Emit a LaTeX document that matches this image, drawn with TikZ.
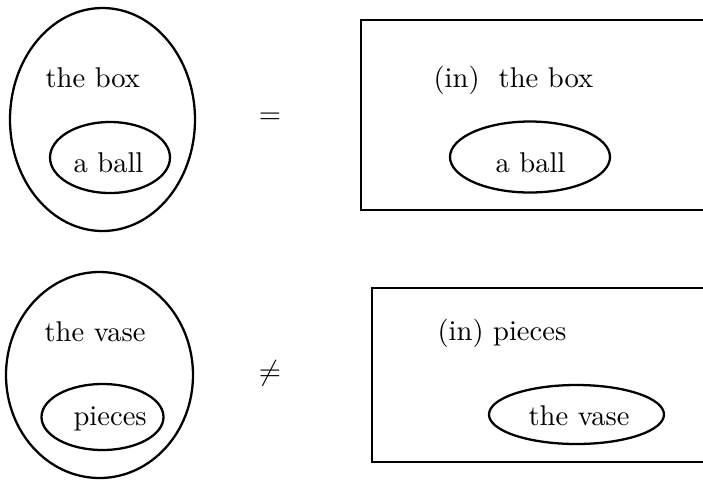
\documentclass[tikz,border=0pt]{standalone}
\usetikzlibrary{positioning}

\tikzset{
  lbl/.style={anchor=base west, inner sep=0pt},
  rel/.style={inner sep=0pt},
  outline/.style={line width=0.8pt}
}

\begin{document}
\begin{tikzpicture}[x=0.35pt, y=-0.35pt]
        \useasboundingbox (0,0) rectangle (703,480);

        \coordinate (O1) at (102.5,119.5);
        \coordinate (I1) at (110,157.5);
        \coordinate (I2) at (530,157);
        \coordinate (O3) at (99.5,375);
        \coordinate (I3) at (102.5,417);
        \coordinate (I4) at (576.5,414.5);

        \draw[outline] (O1) ellipse (92.5 and 111.5);
        \draw[outline] (I1) ellipse (60 and 35.5);
        \draw[outline] (360.7,20) rectangle (712,210);
        \draw[outline] (I2) ellipse (80 and 35.5);

        \draw[outline] (O3) ellipse (93.5 and 103);
        \draw[outline] (I3) ellipse (61 and 33);
        \draw[outline] (372.3,288.3) rectangle (712,461.7);
        \draw[outline] (I4) ellipse (87.5 and 29.5);

    % Labels
    \node[lbl] (thebox) at (45,87) {the box};
    \node[lbl] (aball) at (73,172) {a ball};
    \node[rel] (eq) at (270,118) {$=$};
    \node[lbl] (inbox) at (433,87) {(in)~~the box};
    \node[lbl] (aballin) at (495,172) {a ball};

    \node[lbl] (thevase) at (44,341) {the vase};
    \node[lbl] (pieces) at (73,425) {pieces};
    \node[rel] (neq) at (270,373) {$\neq$};
    \node[lbl] (inpieces) at (437,340) {(in) pieces};
    \node[lbl] (thevasein) at (528,425) {the vase};
    \end{tikzpicture}
\end{document}
